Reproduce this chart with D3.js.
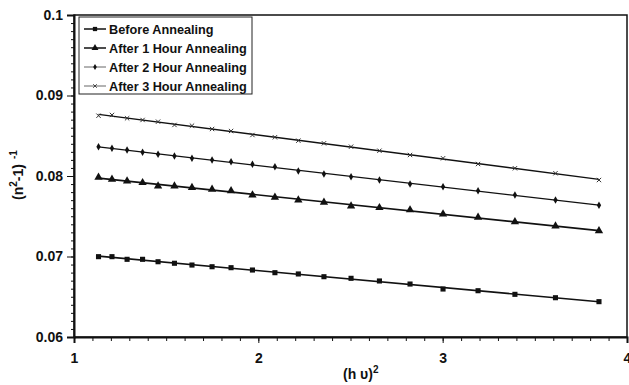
<!doctype html>
<html>
<head>
<script src="https://cdn.jsdelivr.net/npm/d3@7"></script>
<style type="text/css">
  body { margin: 0; background: #fff; }
  svg { display: block; font-family: "Liberation Sans", Arial, sans-serif; font-weight: bold; }
</style>
</head>
<body>
<svg width="629" height="385"></svg>
<script type="text/javascript">

// (h v)^2 positions, shared by every series
var energySq = [1.133, 1.206, 1.288, 1.372, 1.456, 1.545, 1.640, 1.749, 1.852, 1.968, 2.090,
                2.217, 2.356, 2.503, 2.657, 2.823, 3.002, 3.192, 3.392, 3.612, 3.848];

var beforeAnnealing = [0.06998, 0.06998, 0.06965, 0.06965, 0.06935, 0.06916, 0.06894, 0.06873, 0.06861, 0.06832, 0.06799,
                       0.06783, 0.06749, 0.06729, 0.06696, 0.06658, 0.06596, 0.06575, 0.06530, 0.06488, 0.06439];
var after1Hour = [0.07984, 0.07959, 0.07938, 0.07917, 0.07876, 0.07876, 0.07855, 0.07835, 0.07817, 0.07764, 0.07735,
                  0.07702, 0.07673, 0.07627, 0.07606, 0.07578, 0.07528, 0.07487, 0.07432, 0.07379, 0.07320];
var after2Hour = [0.08364, 0.08344, 0.08323, 0.08294, 0.08270, 0.08248, 0.08220, 0.08199, 0.08178, 0.08145, 0.08116,
                  0.08062, 0.08025, 0.07991, 0.07950, 0.07901, 0.07867, 0.07817, 0.07764, 0.07702, 0.07636];
var after3Hour = [0.08749, 0.08758, 0.08717, 0.08696, 0.08675, 0.08634, 0.08625, 0.08584, 0.08559, 0.08509, 0.08481,
                  0.08439, 0.08406, 0.08364, 0.08314, 0.08261, 0.08220, 0.08149, 0.08096, 0.08034, 0.07950];

var seriesNames = ["Before Annealing", "After 1 Hour Annealing", "After 2 Hour Annealing", "After 3 Hour Annealing"];
var xTickValues = [1, 2, 3, 4];
var yTickValues = [0.06, 0.07, 0.08, 0.09, 0.1];
var yTickLabels = ["0.06", "0.07", "0.08", "0.09", "0.1"];

var seriesValues = [beforeAnnealing, after1Hour, after2Hour, after3Hour];
var symbols = [d3.symbolSquare, d3.symbolTriangle, d3.symbolDiamond, d3.symbolTimes];
var symbolSizes = [26, 30, 16, 14];
var lineWidths = [1.6, 1.6, 1.3, 1.3];

var svg = d3.select("svg");
var plotLeft = 74, plotRight = 627, plotTop = 15, plotBottom = 337;

var xScale = d3.scaleLinear().domain([1, 4]).range([plotLeft, plotRight]);
var yScale = d3.scaleLinear().domain([0.06, 0.1]).range([plotBottom, plotTop]);

// frame
svg.append("rect")
   .attr("x", plotLeft).attr("y", plotTop)
   .attr("width", plotRight - plotLeft).attr("height", plotBottom - plotTop)
   .attr("fill", "none").attr("stroke", "#111").attr("stroke-width", 1.5);

// minor ticks
svg.append("g").attr("transform", "translate(0," + plotBottom + ")")
   .call(d3.axisBottom(xScale).tickValues(d3.range(10, 41).map(function(d) { return d / 10; }))
           .tickSize(4).tickFormat(""))
   .call(function(g) { g.select(".domain").remove(); g.selectAll("line").attr("stroke", "#111"); });
svg.append("g").attr("transform", "translate(" + plotLeft + ",0)")
   .call(d3.axisLeft(yScale).tickValues(d3.range(60, 101).map(function(d) { return d / 1000; }))
           .tickSize(3).tickFormat(""))
   .call(function(g) { g.select(".domain").remove(); g.selectAll("line").attr("stroke", "#111"); });

// major ticks and labels
svg.append("g").attr("transform", "translate(0," + plotBottom + ")")
   .call(d3.axisBottom(xScale).tickValues(xTickValues).tickSize(6).tickPadding(10)
           .tickFormat(function(d) { return d; }))
   .call(function(g) {
       g.select(".domain").attr("stroke", "#111").attr("stroke-width", 2);
       g.selectAll("line").attr("stroke", "#111");
       g.selectAll("text").attr("font-size", 14).attr("font-family", "Liberation Sans")
        .attr("font-weight", "bold").attr("fill", "#111");
   });
svg.append("g").attr("transform", "translate(" + plotLeft + ",0)")
   .call(d3.axisLeft(yScale).tickValues(yTickValues).tickSize(7).tickPadding(4)
           .tickFormat(function(d, i) { return yTickLabels[i]; }))
   .call(function(g) {
       g.select(".domain").attr("stroke", "#111").attr("stroke-width", 2);
       g.selectAll("line").attr("stroke", "#111");
       g.selectAll("text").attr("font-size", 14).attr("font-family", "Liberation Sans")
        .attr("font-weight", "bold").attr("fill", "#111");
   });

// series: least squares trend line plus markers
seriesValues.forEach(function(vals, s) {
    var pts = energySq.map(function(x, i) { return {x: x, y: vals[i]}; });
    var mx = d3.mean(pts, function(d) { return d.x; });
    var my = d3.mean(pts, function(d) { return d.y; });
    var slope = d3.sum(pts, function(d) { return (d.x - mx) * (d.y - my); }) /
                d3.sum(pts, function(d) { return (d.x - mx) * (d.x - mx); });
    var x0 = d3.min(energySq), x1 = d3.max(energySq);
    var fit = [{x: x0, y: my + slope * (x0 - mx)}, {x: x1, y: my + slope * (x1 - mx)}];
    var line = d3.line().x(function(d) { return xScale(d.x); }).y(function(d) { return yScale(d.y); });

    svg.append("path").attr("d", line(fit))
       .attr("fill", "none").attr("stroke", "#111").attr("stroke-width", lineWidths[s]);

    svg.append("g").selectAll("path.pt")
       .data(pts).enter().append("path")
       .attr("class", "pt")
       .attr("transform", function(d) { return "translate(" + xScale(d.x) + "," + yScale(d.y) + ")"; })
       .attr("d", d3.symbol().type(symbols[s]).size(symbolSizes[s]))
       .attr("fill", s == 3 ? "none" : "#111")
       .attr("stroke", s == 3 ? "#333" : "none")
       .attr("stroke-width", 1);
});

// legend
var legend = svg.append("g");
legend.append("rect").attr("x", 79).attr("y", 17).attr("width", 173).attr("height", 77)
      .attr("fill", "#fff").attr("stroke", "#222").attr("stroke-width", 1);
seriesNames.forEach(function(name, s) {
    var y = 29 + s * 19;
    legend.append("line").attr("x1", 84).attr("x2", 106).attr("y1", y).attr("y2", y)
          .attr("stroke", s < 2 ? "#111" : "#666").attr("stroke-width", s < 2 ? 1.5 : 1);
    legend.append("path").attr("transform", "translate(95," + y + ")")
          .attr("d", d3.symbol().type(symbols[s]).size(symbolSizes[s] * 0.7))
          .attr("fill", s == 3 ? "none" : "#111")
          .attr("stroke", s == 3 ? "#444" : "none");
    legend.append("text").attr("x", 109).attr("y", y + 4.5)
          .attr("font-size", 12.7).attr("fill", "#111").text(name);
});

// axis titles
var xt = svg.append("text").attr("x", 343).attr("y", 379).attr("font-size", 14).attr("fill", "#111");
xt.append("tspan").text("(h \u03c5)");
xt.append("tspan").attr("dy", -6).attr("font-size", 10).text("2");

var yt = svg.append("text").attr("transform", "translate(23,200) rotate(-90)")
            .attr("font-size", 14).attr("fill", "#111");
yt.append("tspan").text("(n");
yt.append("tspan").attr("dy", -6).attr("font-size", 10).text("2");
yt.append("tspan").attr("dy", 6).text("-1)");
yt.append("tspan").attr("dx", 5).attr("dy", -6).attr("font-size", 10).text("-1");

</script>
</body>
</html>
